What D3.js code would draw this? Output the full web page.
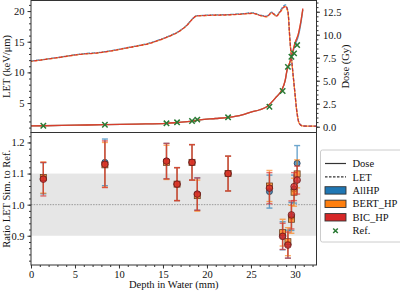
<!DOCTYPE html>
<html>
<head>
<meta charset="utf-8">
<script src="https://cdn.jsdelivr.net/npm/d3@7"></script>
<style>
  body { margin: 0; background: #fff; }
  svg { display: block; }
  svg text { font-family: "Liberation Serif", "Times New Roman", serif; fill: #111; }
</style>
</head>
<body>
<svg id="chart" width="400" height="291"></svg>
<script>
// ---- data ----
// upper curve (Dose, right axis, dashed)
var doseDepth = [0, 3, 5.6, 7.8, 11.25, 13.5, 15.4, 16.9, 17.8, 18.3, 18.8, 20, 22.6, 24, 25.2, 26.0, 26.8, 27.35, 27.9, 28.3, 28.9, 29.2, 29.43, 29.66, 30.0, 30.19, 30.49, 30.9, 32.45];
var doseAllHP = [7.13, 7.52, 7.9, 8.07, 8.65, 9.1, 9.75, 10.42, 11.12, 11.68, 12.05, 12.12, 12.2, 12.28, 12.38, 12.15, 12.02, 12.45, 12.08, 12.55, 13.25, 12.6, 9.5, 6.95, 3.65, 1.85, 0.38, 0.08, 0.05];
var doseBERT  = [7.1, 7.5, 7.86, 8.04, 8.62, 9.06, 9.71, 10.39, 11.09, 11.64, 12.02, 12.09, 12.16, 12.24, 12.32, 12.1, 11.95, 12.37, 12.02, 12.45, 13.05, 12.48, 9.4, 6.9, 3.63, 1.83, 0.37, 0.08, 0.05];
var doseBIC   = [7.11, 7.5, 7.87, 8.05, 8.63, 9.07, 9.72, 10.4, 11.1, 11.65, 12.03, 12.1, 12.17, 12.25, 12.33, 12.1, 11.96, 12.39, 12.03, 12.47, 13.1, 12.5, 9.4, 6.9, 3.63, 1.83, 0.37, 0.08, 0.05];

// lower curve (LET, left axis, solid)
var letDepth = [0, 1.4, 5, 8.4, 12, 15.4, 16.6, 18.3, 19.2, 21, 22.4, 24, 25, 26, 26.8, 27.9, 28.5, 28.9, 29.1, 29.4, 29.6, 30.0, 30.4, 30.7, 30.9];
var letAllHP = [1.27, 1.3, 1.39, 1.47, 1.58, 1.7, 1.83, 2.04, 2.27, 2.48, 2.67, 3.08, 3.54, 3.91, 4.4, 6.0, 7.1, 8.7, 10.3, 11.5, 12.4, 14.4, 16.0, 18.2, 20.2];
var letBERT  = [1.27, 1.3, 1.39, 1.47, 1.58, 1.7, 1.83, 2.04, 2.27, 2.48, 2.67, 3.08, 3.54, 3.91, 4.4, 6.03, 7.13, 8.76, 10.39, 11.6, 12.6, 14.74, 16.37, 18.54, 20.3];
var letBIC   = [1.27, 1.3, 1.39, 1.47, 1.58, 1.7, 1.83, 2.04, 2.27, 2.48, 2.67, 3.08, 3.54, 3.91, 4.4, 6.03, 7.13, 8.76, 10.39, 11.6, 12.6, 14.74, 16.37, 18.54, 20.45];

// reference points
var refDepth = [1.4, 8.4, 15.4, 16.6, 18.3, 18.9, 22.4, 27.1, 28.6, 29.2, 29.6, 29.9, 30.25];
var refLET   = [1.3, 1.47, 1.7, 1.86, 2.07, 2.3, 2.67, 4.4, 6.96, 10.9, 12.55, 13.1, 14.45];

// ratio sim / ref with error
var ratioAllHP = [1.085, 1.136, 1.14, 1.066, 1.136, 1.034, 1.1, 1.042, 0.9, 0.873, 0.962, 1.05, 1.133];
var errAllHP   = [0.05, 0.075, 0.057, 0.053, 0.057, 0.052, 0.056, 0.053, 0.045, 0.045, 0.045, 0.045, 0.057];
var ratioBERT  = [1.087, 1.128, 1.136, 1.066, 1.136, 1.029, 1.1, 1.06, 0.91, 0.881, 0.953, 1.04, 1.099];
var errBERT    = [0.05, 0.072, 0.055, 0.053, 0.057, 0.05, 0.056, 0.05, 0.043, 0.045, 0.045, 0.045, 0.045];
var ratioBIC   = [1.082, 1.13, 1.14, 1.066, 1.136, 1.034, 1.1, 1.053, 0.898, 0.87, 0.967, 1.058, 1.079];
var errBIC     = [0.054, 0.075, 0.057, 0.053, 0.057, 0.052, 0.056, 0.05, 0.042, 0.042, 0.045, 0.045, 0.045];

var xTicks = [0, 5, 10, 15, 20, 25, 30];
var letTicks = [5, 10, 15, 20];
var doseTicks = [0, 2.5, 5, 7.5, 10, 12.5];
var ratioTicks = [0.9, 1.0, 1.1, 1.2];

var colors = { AllHP: "#1f77b4", BERT_HP: "#ff7f0e", BIC_HP: "#d62728", ref: "#2a7a34" };

// ---- layout ----
var L = 31, R = 316.5, T1 = 0.5, B1 = 132.5, T2 = 132.5, B2 = 265;
var svg = d3.select("#chart");

var x = d3.scaleLinear().domain([0, 32.45]).range([L, R]);
var yLet = d3.scaleLinear().domain([0.2, 21.72]).range([B1, T1]);
var yDose = d3.scaleLinear().domain([-0.63, 13.72]).range([B1, T1]);
var yRatio = d3.scaleLinear().domain([0.806, 1.232]).range([B2, T2]);

var defs = svg.append("defs");
defs.append("clipPath").attr("id", "clipTop").append("rect")
	.attr("x", L).attr("y", T1).attr("width", R - L).attr("height", B1 - T1);
defs.append("clipPath").attr("id", "clipBot").append("rect")
	.attr("x", L).attr("y", T2).attr("width", R - L).attr("height", B2 - T2);

// ---- top panel ----
var topG = svg.append("g").attr("clip-path", "url(#clipTop)");

var doseLine = function(vals){
	return d3.line().curve(d3.curveMonotoneX)
		.x(function(d, i){ return x(doseDepth[i]); })
		.y(function(d){ return yDose(d); })(vals);
};
var letLine = function(vals){
	return d3.line().curve(d3.curveMonotoneX)
		.x(function(d, i){ return x(letDepth[i]); })
		.y(function(d){ return yLet(d); })(vals);
};

[[doseAllHP, colors.AllHP], [doseBERT, colors.BERT_HP], [doseBIC, colors.BIC_HP]].forEach(function(s, k){
	topG.append("path").attr("d", doseLine(s[0]))
		.attr("fill", "none").attr("stroke", s[1]).attr("stroke-width", 1.3)
		.attr("stroke-dasharray", "3.5,1.6").attr("stroke-dashoffset", k * 1.2)
		.attr("opacity", 0.85);
});
[[letAllHP, colors.AllHP], [letBERT, colors.BERT_HP], [letBIC, colors.BIC_HP]].forEach(function(s){
	topG.append("path").attr("d", letLine(s[0]))
		.attr("fill", "none").attr("stroke", s[1]).attr("stroke-width", 1.3)
		.attr("opacity", 0.75);
});

var xMark = function(g, cx, cy, s){
	g.append("path")
		.attr("d", "M" + (cx - s) + "," + (cy - s) + "L" + (cx + s) + "," + (cy + s) +
			"M" + (cx - s) + "," + (cy + s) + "L" + (cx + s) + "," + (cy - s))
		.attr("stroke", colors.ref).attr("stroke-width", 1.5).attr("fill", "none");
};
refDepth.forEach(function(d, i){ xMark(topG, x(d), yLet(refLET[i]), 2.7); });

// ---- bottom panel ----
var botG = svg.append("g").attr("clip-path", "url(#clipBot)");
botG.append("rect").attr("x", L).attr("width", R - L)
	.attr("y", yRatio(1.1)).attr("height", yRatio(0.9) - yRatio(1.1))
	.attr("fill", "#e6e6e6");
botG.append("line").attr("x1", L).attr("x2", R)
	.attr("y1", yRatio(1.0)).attr("y2", yRatio(1.0))
	.attr("stroke", "#999").attr("stroke-width", 1).attr("stroke-dasharray", "1.5,1.2");

var drawSeries = function(vals, errs, color, shape, edge){
	refDepth.forEach(function(d, i){
		var cx = x(d), y0 = yRatio(vals[i] - errs[i]), y1 = yRatio(vals[i] + errs[i]);
		var g = botG.append("g").attr("stroke", color).attr("stroke-width", 1.4).attr("opacity", 0.65);
		g.append("line").attr("x1", cx).attr("x2", cx).attr("y1", y0).attr("y2", y1);
		g.append("line").attr("x1", cx - 3).attr("x2", cx + 3).attr("y1", y0).attr("y2", y0);
		g.append("line").attr("x1", cx - 3).attr("x2", cx + 3).attr("y1", y1).attr("y2", y1);
	});
	refDepth.forEach(function(d, i){
		var cx = x(d), cy = yRatio(vals[i]);
		var m;
		if(shape == "square"){
			m = botG.append("rect").attr("x", cx - 3).attr("y", cy - 3).attr("width", 6).attr("height", 6);
		} else {
			m = botG.append("circle").attr("cx", cx).attr("cy", cy).attr("r", shape == "big" ? 3.3 : 3);
		}
		m.attr("fill", color).attr("fill-opacity", 0.75).attr("stroke", edge).attr("stroke-width", 0.8);
	});
};
drawSeries(ratioAllHP, errAllHP, colors.AllHP, "circle", "#1d3550");
drawSeries(ratioBERT, errBERT, colors.BERT_HP, "square", "#6a4020");
drawSeries(ratioBIC, errBIC, colors.BIC_HP, "big", "#6a1c1c");

// ---- axes ----
var minor = function(a, b, step){ return d3.range(a, b + step / 2, step); };
var fmt1 = d3.format(".1f");

svg.append("g").attr("transform", "translate(" + L + ",0)")
	.call(d3.axisLeft(yLet).tickValues(minor(1, 21, 1)).tickSize(2).tickFormat(""));
svg.append("g").attr("transform", "translate(" + L + ",0)")
	.call(d3.axisLeft(yLet).tickValues(letTicks).tickSize(3.5).tickPadding(3).tickFormat(d3.format("d")));

svg.append("g").attr("transform", "translate(" + R + ",0)")
	.call(d3.axisRight(yDose).tickValues(minor(0, 13.5, 0.5)).tickSize(2).tickFormat(""));
svg.append("g").attr("transform", "translate(" + R + ",0)")
	.call(d3.axisRight(yDose).tickValues(doseTicks).tickSize(3.5).tickPadding(3).tickFormat(fmt1));

svg.append("g").attr("transform", "translate(" + L + ",0)")
	.call(d3.axisLeft(yRatio).tickValues(minor(0.82, 1.22, 0.02)).tickSize(2).tickFormat(""));
svg.append("g").attr("transform", "translate(" + L + ",0)")
	.call(d3.axisLeft(yRatio).tickValues(ratioTicks).tickSize(3.5).tickPadding(3).tickFormat(fmt1));

svg.append("g").attr("transform", "translate(0," + B2 + ")")
	.call(d3.axisBottom(x).tickValues(minor(0, 32, 1)).tickSize(2).tickFormat(""));
svg.append("g").attr("transform", "translate(0," + B2 + ")")
	.call(d3.axisBottom(x).tickValues(xTicks).tickSize(3.5).tickPadding(2).tickFormat(d3.format("d")));

svg.selectAll(".domain").remove();
svg.selectAll(".tick line").attr("stroke", "#333");
svg.selectAll("g").attr("font-family", null);
svg.selectAll(".tick text").attr("fill", "#111").style("font-size", "10.5px");

// frames
[[T1, B1], [T2, B2]].forEach(function(p){
	svg.append("rect").attr("x", L).attr("y", p[0]).attr("width", R - L).attr("height", p[1] - p[0])
		.attr("fill", "none").attr("stroke", "#333").attr("stroke-width", 1);
});

// axis labels
svg.append("text").attr("transform", "translate(10," + ((T1 + B1) / 2) + ") rotate(-90)")
	.attr("text-anchor", "middle").style("font-size", "10.5px").text("LET (keV/μm)");
svg.append("text").attr("transform", "translate(10," + ((T2 + B2) / 2) + ") rotate(-90)")
	.attr("text-anchor", "middle").style("font-size", "10.5px").text("Ratio LET Sim. to Ref.");
svg.append("text").attr("transform", "translate(349," + ((T1 + B1) / 2) + ") rotate(-90)")
	.attr("text-anchor", "middle").style("font-size", "10.5px").text("Dose (Gy)");
svg.append("text").attr("x", (L + R) / 2).attr("y", 288)
	.attr("text-anchor", "middle").style("font-size", "10.5px").text("Depth in Water (mm)");

// ---- legend ----
var lg = svg.append("g");
lg.append("rect").attr("x", 320.5).attr("y", 150).attr("width", 90).attr("height", 92)
	.attr("rx", 2).attr("fill", "#fff").attr("stroke", "#ccc").attr("stroke-width", 1);
var items = ["Dose", "LET", "AllHP", "BERT_HP", "BIC_HP", "Ref."];
items.forEach(function(name, i){
	var cy = 163.5 + i * 13.45;
	if(name == "Dose" || name == "LET"){
		lg.append("line").attr("x1", 325).attr("x2", 346).attr("y1", cy).attr("y2", cy)
			.attr("stroke", "#333").attr("stroke-width", 1.2)
			.attr("stroke-dasharray", name == "LET" ? "2.5,1.5" : null);
	} else if(name == "Ref."){
		xMark(lg, 335.5, cy, 2.3);
	} else {
		lg.append("rect").attr("x", 325).attr("y", cy - 3.7).attr("width", 21).attr("height", 7.4)
			.attr("fill", colors[name]).attr("stroke", "#333").attr("stroke-width", 0.9);
	}
	lg.append("text").attr("x", 352.5).attr("y", cy + 3.6).style("font-size", "10.5px").text(name);
});
</script>
</body>
</html>
